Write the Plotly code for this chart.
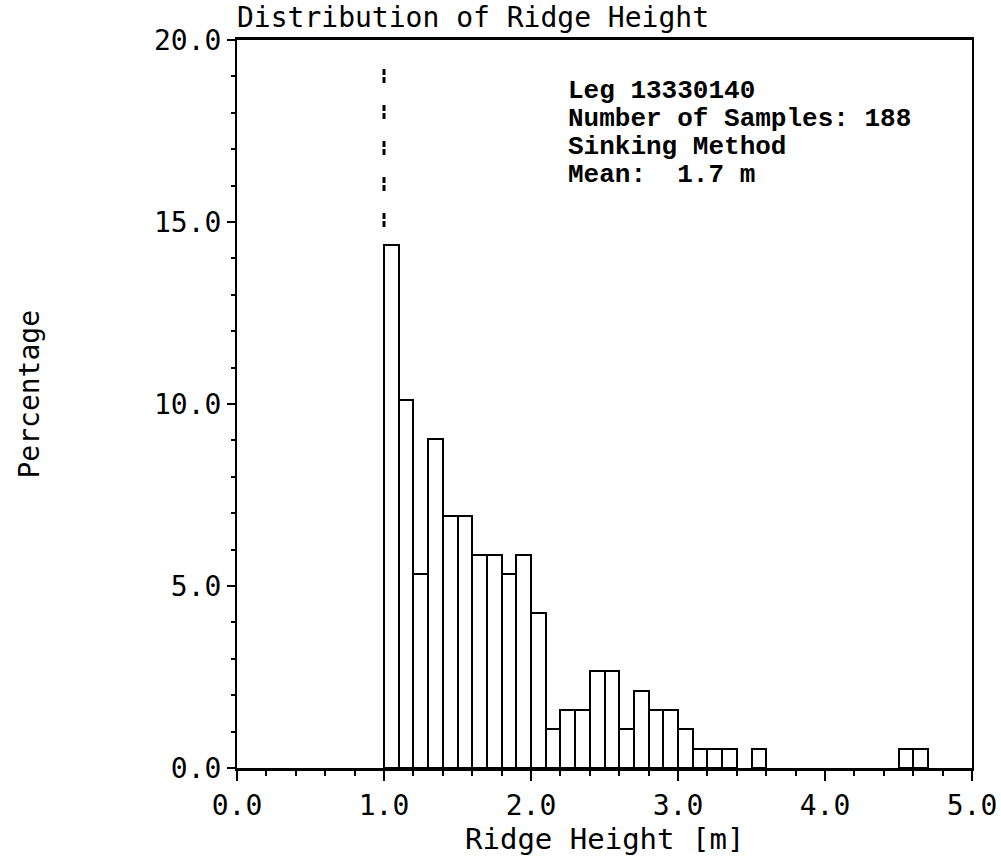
import plotly.graph_objects as go

# Histogram data: bin left edges [m] and percentage of samples
bin_left = [1.0, 1.1, 1.2, 1.3, 1.4, 1.5, 1.6, 1.7, 1.8, 1.9,
            2.0, 2.1, 2.2, 2.3, 2.4, 2.5, 2.6, 2.7, 2.8, 2.9,
            3.0, 3.1, 3.2, 3.3, 3.5, 4.5, 4.6]
counts = [27, 19, 10, 17, 13, 13, 11, 11, 10, 11,
          8, 2, 3, 3, 5, 5, 2, 4, 3, 3,
          2, 1, 1, 1, 1, 1, 1]
n_samples = 188
bin_width = 0.1
percent = [c * 100.0 / n_samples for c in counts]
centers = [b + bin_width / 2 for b in bin_left]

cutoff = 1.0
cutoff_marker_range = [14.7, 19.2]

x_ticks = [0.0, 1.0, 2.0, 3.0, 4.0, 5.0]
y_ticks = [0.0, 5.0, 10.0, 15.0, 20.0]

info_lines = ["Leg 13330140", "Number of Samples: 188", "Sinking Method", "Mean:  1.7 m"]

axis_font = dict(family="DejaVu Sans Mono", size=28, color="black")
xtitle_font = dict(family="DejaVu Sans Mono", size=29, color="black")

fig = go.Figure()
fig.add_trace(go.Bar(
    x=centers, y=percent, width=bin_width,
    marker=dict(color="white", line=dict(color="black", width=2)),
    showlegend=False, hoverinfo="skip",
))
fig.add_trace(go.Scatter(
    x=[cutoff, cutoff], y=[cutoff_marker_range[1], cutoff_marker_range[0]],
    mode="lines", line=dict(color="black", width=3, dash="6px,2px,6px,22px"),
    showlegend=False, hoverinfo="skip",
))

for i, t in enumerate(info_lines):
    fig.add_annotation(
        x=0.448, y=0.930 - i * 0.0385, xref="paper", yref="paper",
        text="<b>" + t + "</b>", showarrow=False, xanchor="left", yanchor="middle",
        font=dict(family="Liberation Mono", size=26, color="black"),
    )

fig.add_annotation(
    x=-0.282, y=0.514, xref="paper", yref="paper", text="Percentage",
    textangle=-90, showarrow=False, xanchor="center", yanchor="middle", font=axis_font,
)
fig.add_annotation(
    x=0.5, y=-0.098, xref="paper", yref="paper", text="Ridge Height [m]",
    showarrow=False, xanchor="center", yanchor="middle", font=xtitle_font,
)

fig.update_layout(
    width=1001, height=858,
    margin=dict(l=237, r=29, t=40, b=90),
    paper_bgcolor="white", plot_bgcolor="white",
    bargap=0,
    title=dict(text="Distribution of Ridge Height", x=237 / 1001, xanchor="left",
               y=1 - 17 / 858, yanchor="middle", font=axis_font),
    xaxis=dict(
        range=[0, 5], tickvals=x_ticks, tickformat=".1f", automargin=False,
        showline=True, linecolor="black", linewidth=3, mirror=True,
        ticks="outside", ticklen=10, tickwidth=2, tickcolor="black",
        minor=dict(dtick=0.2, tick0=0, ticks="outside", ticklen=5, tickwidth=1.5, tickcolor="black"),
        showgrid=False, zeroline=False, tickfont=axis_font,
    ),
    yaxis=dict(
        range=[0, 20], tickvals=y_ticks, tickformat=".1f", automargin=False,
        showline=True, linecolor="black", linewidth=2, mirror=True,
        ticks="outside", ticklen=8, tickwidth=2, tickcolor="black",
        minor=dict(dtick=1, tick0=0, ticks="outside", ticklen=4, tickwidth=1.5, tickcolor="black"),
        showgrid=False, zeroline=False, tickfont=axis_font,
    ),
)

fig.write_html("out.html")
